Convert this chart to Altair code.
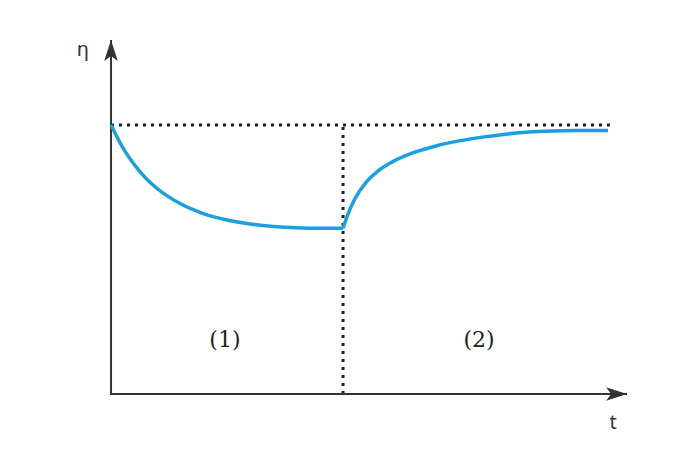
import altair as alt
import pandas as pd

# Curve (1): viscosity decreasing during the first phase
t1 = [0.0, 0.05, 0.1, 0.15, 0.2, 0.3, 0.4, 0.5, 0.6, 0.7, 0.8, 0.9, 1.0]
eta1 = [1.0, 0.917, 0.853, 0.802, 0.763, 0.707, 0.670, 0.647, 0.632, 0.623, 0.618, 0.616, 0.616]
# Curve (2): recovery after the switch
t2 = [1.0, 1.02, 1.05, 1.1, 1.15, 1.2, 1.3, 1.4, 1.5, 1.6, 1.7, 1.8, 1.9, 2.0, 2.142]
eta2 = [0.616, 0.666, 0.724, 0.788, 0.829, 0.857, 0.896, 0.922, 0.941, 0.955, 0.966, 0.974, 0.978, 0.980, 0.980]

t_switch = 1.0
eta_ref = 1.0
t_ref_end = 2.15
t_axis_end = 2.224
eta_axis_end = 1.316

labels = ["η", "t", "(1)", "(2)"]
label_t = [-0.121, 2.164, 0.491, 1.586]
label_eta = [1.279, -0.108, 0.2, 0.2]

W, H = 684, 438
xs = alt.Scale(domain=[-0.444, 2.504], nice=False, zero=False)
ys = alt.Scale(domain=[-0.1933, 1.435], nice=False, zero=False)

curve = pd.DataFrame({
    "t": t1 + t2,
    "eta": eta1 + eta2,
    "seg": ["1"] * len(t1) + ["2"] * len(t2),
})

axes = pd.DataFrame({
    "t": [0.0, 0.0], "t2": [0.0, t_axis_end],
    "eta": [-0.004, 0.0], "eta2": [eta_axis_end, 0.0],
})
dotted = pd.DataFrame({
    "t": [0.0, t_switch], "t2": [t_ref_end, t_switch],
    "eta": [eta_ref, 0.0], "eta2": [eta_ref, eta_ref],
})

X = lambda f="t": alt.X(f"{f}:Q", scale=xs, axis=None)
Y = lambda f="eta": alt.Y(f"{f}:Q", scale=ys, axis=None)

axis_layer = alt.Chart(axes).mark_rule(color="#333333", strokeWidth=2).encode(
    x=X(), x2="t2:Q", y=Y(), y2="eta2:Q")

dot_layer = alt.Chart(dotted).mark_rule(
    color="#1b1f2e", strokeWidth=3, strokeDash=[3, 5]).encode(
    x=X(), x2="t2:Q", y=Y(), y2="eta2:Q")

curve_layer = alt.Chart(curve).mark_line(
    color="#1a9fe0", strokeWidth=3.5, interpolate="monotone").encode(
    x=X(), y=Y(), detail="seg:N")

up_arrow = alt.Chart(pd.DataFrame({"t": [0.0], "eta": [eta_axis_end]})).mark_point(
    shape="M0,-1 L0.62,0.9 L0,0.45 L-0.62,0.9 Z", size=484, filled=True,
    color="#333333", opacity=1, yOffset=11).encode(x=X(), y=Y())

right_arrow = alt.Chart(pd.DataFrame({"t": [t_axis_end], "eta": [0.0]})).mark_point(
    shape="M1,0 L-0.9,0.62 L-0.45,0 L-0.9,-0.62 Z", size=484, filled=True,
    color="#333333", opacity=1, xOffset=-11).encode(x=X(), y=Y())

lab = pd.DataFrame({"label": labels, "t": label_t, "eta": label_eta})
axis_labels = alt.Chart(lab.iloc[:2]).mark_text(
    font="Noto Sans", fontSize=20, color="#333333").encode(
    x=X(), y=Y(), text="label:N")
region_labels = alt.Chart(lab.iloc[2:]).mark_text(
    font="DejaVu Serif", fontSize=22, color="#222222").encode(
    x=X(), y=Y(), text="label:N")

chart = alt.layer(
    dot_layer, axis_layer, curve_layer, up_arrow, right_arrow, axis_labels, region_labels
).properties(
    width=W, height=H, padding=0, autosize=alt.AutoSizeParams(type="none")
).configure_view(stroke=None)

chart.save("out.html", embed_options={"renderer": "svg", "actions": False})
